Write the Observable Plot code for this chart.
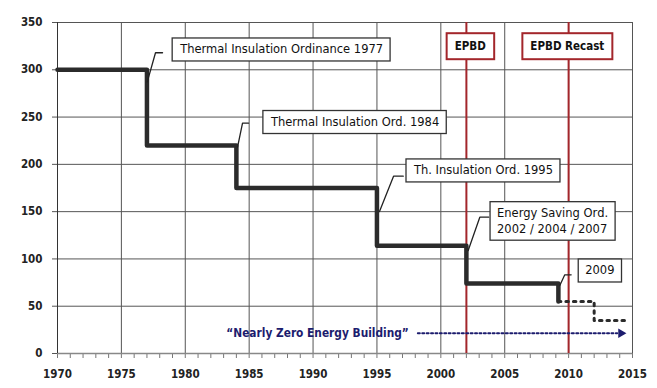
<!DOCTYPE html>
<html><head><meta charset="utf-8">
<script src="https://cdn.jsdelivr.net/npm/d3@7"></script>
<script src="https://cdn.jsdelivr.net/npm/@observablehq/plot@0.6"></script>
<style>body{margin:0;background:#fff;}</style>
</head><body><div id="chart"></div>
<script>
// ---- data ----
const stepYears = [1970, 1977, 1984, 1995, 2002, 2009.2];
const stepValues = [300, 220, 175, 114, 74, 55];
const futureYears = [2009.2, 2012, 2014.5];
const futureValues = [55, 35, 35];
const directiveYears = [2002, 2010];
const directiveLabels = ["EPBD", "EPBD Recast"];
const directiveLabelYears = [2002.3, 2009.9];
const directiveLabelValue = 324.6;
const ordinanceLabels = ["Thermal Insulation Ordinance 1977", "Thermal Insulation Ord. 1984", "Th. Insulation Ord. 1995", "Energy Saving Ord.\n2002 / 2004 / 2007", "2009"];
const labelYears = [1979.6, 1986.7, 1997.9, 2004.4, 2011.3];
const labelValues = [322.5, 245.8, 194.6, 141.2, 88.8];
const pointerYears = [1977.02, 1984.09, 1995.2, 2002.14, 2009.31];
const pointerValues = [286.9, 218.1, 150.1, 108.9, 71.9];
const elbowYears = [1977.67, 1984.48, 1996.3, 2003.05, 2009.7];
const elbowValues = [318, 243.5, 187.5, 144.1, 83.2];
const elbowEndYears = [1978.22, 1984.95, 1997.06, 2003.75, 2010.2];
const nzebLabel = "\u201cNearly Zero Energy Building\u201d";
const nzebYears = [1998.2, 2013.8];
const nzebTipYear = 2014.1;
const nzebValue = 21.5;
const xTicks = d3.range(1970, 2016, 5);
const yTicks = d3.range(0, 351, 50);
const minorTicks = d3.range(1970, 2016, 1);

// ---- tables ----
const steps = stepYears.map((x, i) => ({x, y: stepValues[i]}));
const future = futureYears.map((x, i) => ({x, y: futureValues[i]}));
const connectors = ordinanceLabels.flatMap((_, i) => [
  {i, x: pointerYears[i], y: pointerValues[i]},
  {i, x: elbowYears[i], y: elbowValues[i]},
  {i, x: elbowEndYears[i], y: elbowValues[i]}
]);
const ordTable = ordinanceLabels.map((label, i) => ({label, x: labelYears[i], y: labelValues[i]}));
const dirTable = directiveLabels.map((label, i) => ({label, x: directiveLabelYears[i], y: directiveLabelValue}));
const nzebLine = nzebYears.map(x => ({x, y: nzebValue}));

const navy = "#1c1c6e";
const red = "#a3262b";
const font = "'DejaVu Sans Condensed', 'DejaVu Sans', sans-serif";
const labelFont = "'DejaVu Sans', sans-serif";

const svgNode = Plot.plot({
  width: 657, height: 388,
  marginLeft: 57, marginRight: 25, marginTop: 22, marginBottom: 35,
  x: {domain: [1970, 2015], label: null},
  y: {domain: [0, 350], label: null},
  style: {fontFamily: font, background: "#fff", color: "#222", overflow: "visible"},
  marks: [
    Plot.gridX(xTicks, {stroke: "#555", strokeOpacity: 1, strokeWidth: 1}),
    Plot.gridY(yTicks, {stroke: "#555", strokeOpacity: 1, strokeWidth: 1}),
    Plot.axisX({ticks: minorTicks, tickSize: 5, tickFormat: () => "", stroke: "#777"}),
    Plot.axisX({ticks: xTicks, tickSize: 0, tickPadding: 16, tickFormat: d => String(d), fontSize: 11.5, fontWeight: "bold", fill: "#222"}),
    Plot.axisY({ticks: yTicks, tickSize: 5, tickPadding: 10, fontSize: 11.5, fontWeight: "bold", fill: "#222", stroke: "#555"}),
    Plot.ruleY([0], {stroke: "#888", strokeWidth: 1.5}),
    Plot.ruleX([1970], {stroke: "#333"}),
    Plot.ruleX(directiveYears, {stroke: red, strokeWidth: 2}),
    Plot.line(steps, {x: "x", y: "y", curve: "step-after", stroke: "#2b2b2b", strokeWidth: 4.5}),
    Plot.line(future, {x: "x", y: "y", curve: "step-after", stroke: "#2b2b2b", strokeWidth: 3, strokeDasharray: "2.5,5"}),
    Plot.line(connectors, {x: "x", y: "y", z: "i", stroke: "#222", strokeWidth: 1.3}),
    Plot.line(nzebLine, {x: "x", y: "y", stroke: navy, strokeWidth: 2, strokeDasharray: "2,2.4"}),
    Plot.dot([nzebTipYear], {x: d => d, y: () => nzebValue, symbol: "triangle2", r: 4.5, rotate: 90, fill: navy, stroke: "none"}),
    Plot.text(ordTable, {x: "x", y: "y", text: "label", textAnchor: "start", fontSize: 11.5, lineHeight: 1.35, fill: "#111", fontFamily: labelFont}),
    Plot.text(dirTable, {x: "x", y: "y", text: "label", textAnchor: "middle", fontSize: 11.5, fontWeight: "bold", fill: "#111"}),
    Plot.text([nzebLabel], {x: () => nzebYears[0], y: () => nzebValue, text: d => d, dx: -9, textAnchor: "end", fontSize: 11.8, fontWeight: "bold", fill: navy})
  ]
});
document.getElementById("chart").append(svgNode);

// ---- boxes behind the label texts, sized from the rendered text ----
const svgRect = svgNode.getBoundingClientRect();
const textGroups = Array.from(svgNode.querySelectorAll('g[aria-label="text"]'));
function addBoxes(group, padX, padY, stroke, strokeWidth) {
  const layer = d3.select(group.parentNode).insert("g", () => group);
  d3.select(group).selectAll("text").each(function () {
    const r = this.getBoundingClientRect();
    layer.append("rect")
      .attr("x", r.left - svgRect.left - padX)
      .attr("y", r.top - svgRect.top - padY)
      .attr("width", r.width + 2 * padX)
      .attr("height", r.height + 2 * padY)
      .attr("fill", "#fff")
      .attr("stroke", stroke)
      .attr("stroke-width", strokeWidth);
  });
}
addBoxes(textGroups[0], 7, 4.5, "#333", 1.3);
addBoxes(textGroups[1], 8, 6, red, 2);
</script>
</body></html>
